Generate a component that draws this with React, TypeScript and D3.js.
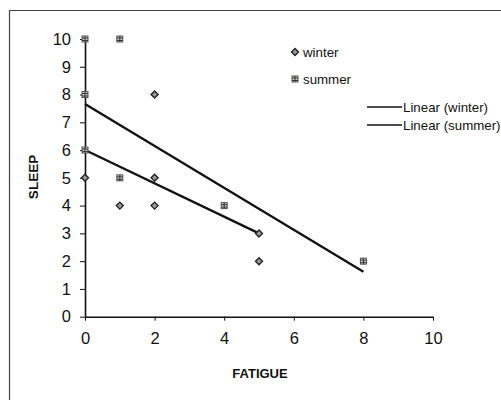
import React, { useEffect, useRef } from 'react';
import * as d3 from 'd3';

// scatter data
const winterX = [0, 1, 2, 2, 2, 5, 5];
const winterY = [5, 4, 4, 5, 8, 2, 3];
const summerX = [0, 0, 0, 1, 1, 4, 8];
const summerY = [10, 8, 6, 10, 5, 4, 2];

// linear trend lines (end points)
const winterFitX = [0, 5];
const winterFitY = [6.0, 3.0];
const summerFitX = [0, 8];
const summerFitY = [7.66, 1.62];

const xTicks = [0, 2, 4, 6, 8, 10];
const yTicks = [0, 1, 2, 3, 4, 5, 6, 7, 8, 9, 10];

const legendLabels = ['winter', 'summer', 'Linear (winter)', 'Linear (summer)'];

const W = 501;
const H = 400;

const App = () => {
    const svgRef = useRef<SVGSVGElement>(null);

    useEffect(() => {
        const svg = d3.select(svgRef.current);
        svg.selectAll('*').remove();

        const font = 'Liberation Sans, Arial, sans-serif';

        // outer frame
        svg.append('path')
            .attr('d', `M9.5,${H} L9.5,10.5 L${W},10.5`)
            .attr('fill', 'none')
            .attr('stroke', '#444')
            .attr('stroke-width', 1.2);

        const x = d3.scaleLinear().domain([0, 10]).range([85, 433]);
        const y = d3.scaleLinear().domain([0, 10]).range([316.7, 39]);

        // axes
        const gx = svg.append('g')
            .attr('transform', `translate(0,${y(0)})`)
            .call(d3.axisBottom(x).tickValues(xTicks).tickSize(4).tickPadding(12).tickSizeOuter(0));
        gx.select('.domain').attr('stroke', '#111').attr('stroke-width', 1.6);
        gx.selectAll('line').attr('stroke', '#111');
        gx.selectAll('text')
            .attr('font-family', font)
            .attr('font-size', 16.5)
            .attr('fill', '#111');

        const gy = svg.append('g')
            .attr('transform', `translate(${x(0)},0)`)
            .call(d3.axisLeft(y).tickValues(yTicks).tickSize(5).tickPadding(9).tickSizeOuter(0));
        gy.select('.domain').attr('stroke', '#111').attr('stroke-width', 1.6);
        gy.selectAll('line').attr('stroke', '#111');
        gy.selectAll('text')
            .attr('font-family', font)
            .attr('font-size', 16.5)
            .attr('fill', '#111');

        // axis titles
        svg.append('text')
            .attr('x', 260)
            .attr('y', 378)
            .attr('text-anchor', 'middle')
            .attr('font-family', font)
            .attr('font-weight', 'bold')
            .attr('font-size', 13)
            .attr('fill', '#111')
            .text('FATIGUE');

        svg.append('text')
            .attr('transform', 'translate(38,177) rotate(-90)')
            .attr('text-anchor', 'middle')
            .attr('font-family', font)
            .attr('font-weight', 'bold')
            .attr('font-size', 13.5)
            .attr('fill', '#111')
            .text('SLEEP');

        // trend lines
        const line = d3.line<[number, number]>()
            .x(d => x(d[0]))
            .y(d => y(d[1]));

        const fits = [
            winterFitX.map((v, i) => [v, winterFitY[i]] as [number, number]),
            summerFitX.map((v, i) => [v, summerFitY[i]] as [number, number]),
        ];
        fits.forEach(f => {
            svg.append('path')
                .attr('d', line(f))
                .attr('fill', 'none')
                .attr('stroke', '#111')
                .attr('stroke-width', 2.3);
        });

        // markers
        const diamond = (g: any, cx: number, cy: number) => {
            g.append('path')
                .attr('d', `M${cx},${cy - 3.5} L${cx + 3.5},${cy} L${cx},${cy + 3.5} L${cx - 3.5},${cy} Z`)
                .attr('fill', '#999')
                .attr('stroke', '#222')
                .attr('stroke-width', 1.4);
        };
        const square = (g: any, cx: number, cy: number) => {
            g.append('rect')
                .attr('x', cx - 3)
                .attr('y', cy - 3)
                .attr('width', 6)
                .attr('height', 6)
                .attr('fill', '#ccc')
                .attr('stroke', '#555')
                .attr('stroke-width', 1);
            g.append('path')
                .attr('d', `M${cx - 3},${cy - 1} L${cx + 3},${cy - 1} M${cx - 3},${cy + 1.5} L${cx + 3},${cy + 1.5} M${cx},${cy - 3} L${cx},${cy + 3}`)
                .attr('stroke', '#333')
                .attr('stroke-width', 1);
        };

        const pts = svg.append('g');
        winterX.forEach((v, i) => diamond(pts, x(v), y(winterY[i])));
        summerX.forEach((v, i) => square(pts, x(v), y(summerY[i])));

        // legend
        const lg = svg.append('g').attr('font-family', font).attr('font-size', 13.3).attr('fill', '#111');
        const rows = [52, 79, 107, 125];
        diamond(lg, 295, rows[0]);
        square(lg, 295, rows[1]);
        [2, 3].forEach(i => {
            lg.append('line')
                .attr('x1', 367).attr('x2', 402)
                .attr('y1', rows[i]).attr('y2', rows[i])
                .attr('stroke', '#111')
                .attr('stroke-width', 1.6);
        });
        legendLabels.forEach((t, i) => {
            lg.append('text')
                .attr('x', i < 2 ? 303 : 403)
                .attr('y', rows[i])
                .attr('dy', '0.35em')
                .text(t);
        });
    }, []);

    return (
        <div style={{ position: 'absolute', left: 0, top: 0, width: W, height: H, background: '#fff' }}>
            <svg ref={svgRef} width={W} height={H}></svg>
        </div>
    );
};

export default App;
